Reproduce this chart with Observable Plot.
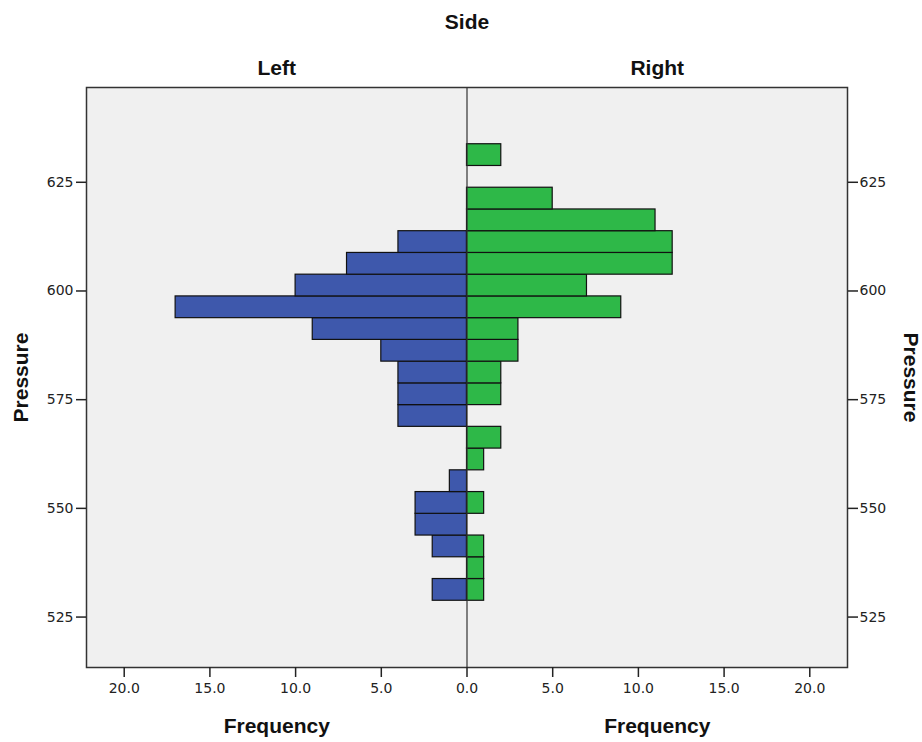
<!DOCTYPE html>
<html>
<head>
<meta charset="utf-8">
<script src="https://cdn.jsdelivr.net/npm/d3@7"></script>
<script src="https://cdn.jsdelivr.net/npm/@observablehq/plot@0.6"></script>
<style>
  html, body { margin: 0; padding: 0; background: #fff; }
</style>
</head>
<body>
<div id="chart"></div>
<script>
// Pressure bins (lower edges, bin width 5)
const binLower = [528.75, 533.75, 538.75, 543.75, 548.75, 553.75, 558.75, 563.75, 568.75, 573.75,
                  578.75, 583.75, 588.75, 593.75, 598.75, 603.75, 608.75, 613.75, 618.75, 623.75, 628.75];
const binWidth = 5;
// Frequencies per side
const leftCounts  = [2, 0, 2, 3, 3, 1, 0, 0, 4, 4, 4, 5, 9, 17, 10, 7, 4, 0, 0, 0, 0];
const rightCounts = [1, 1, 1, 0, 1, 0, 1, 2, 0, 2, 2, 3, 3, 9, 7, 12, 12, 11, 5, 0, 2];
const sides = ["Left", "Right"];
const sideColors = ["#3E58AC", "#2EB848"];
const xTicks = [-20, -15, -10, -5, 0, 5, 10, 15, 20];
const yTicks = [525, 550, 575, 600, 625];
const xMax = 22.2;
const yDomain = [513.4, 646.8];

const rows = binLower.flatMap((lo, i) => [
  {side: "Left", lo, hi: lo + binWidth, n: leftCounts[i]},
  {side: "Right", lo, hi: lo + binWidth, n: rightCounts[i]}
]).filter(d => d.n > 0);

const panelLabels = sides.map((s, i) => ({label: s, x: (i === 0 ? -1 : 1) * xMax / 2}));

const boldFont = {fontFamily: "Liberation Sans, Arial, sans-serif", fontWeight: "bold", fontSize: 21,
  fill: "#111", textAnchor: "middle", lineAnchor: "middle"};

const chart = Plot.plot({
  width: 922,
  height: 742,
  marginTop: 87,
  marginBottom: 75,
  marginLeft: 86,
  marginRight: 75,
  style: {fontFamily: "DejaVu Sans, sans-serif", fontSize: "14px", color: "#222", background: "#fff"},
  x: {domain: [-xMax, xMax]},
  y: {domain: yDomain},
  color: {domain: sides, range: sideColors},
  marks: [
    Plot.frame({fill: "#f0f0f0", stroke: "none"}),
    Plot.rect(rows, {
      x1: () => 0,
      x2: d => d.side === "Left" ? -d.n : d.n,
      y1: "lo",
      y2: "hi",
      fill: "side",
      stroke: "#111",
      strokeWidth: 1.2
    }),
    Plot.ruleX([0], {stroke: "#333", strokeWidth: 1.2}),
    Plot.frame({stroke: "#333", strokeWidth: 1.5}),
    Plot.axisX({anchor: "bottom", ticks: xTicks, tickSize: 10, tickPadding: 6,
      tickFormat: d => Math.abs(d).toFixed(1), label: null, strokeWidth: 1.5}),
    Plot.axisY({anchor: "left", ticks: yTicks, tickSize: 10, tickPadding: 3, label: null, strokeWidth: 1.5}),
    Plot.axisY({anchor: "right", ticks: yTicks, tickSize: 10, tickPadding: 2, label: null, strokeWidth: 1.5}),
    Plot.text(["Side"], {frameAnchor: "top", dy: -65, ...boldFont}),
    Plot.text(panelLabels, {x: "x", text: "label", frameAnchor: "top", dy: -19, ...boldFont}),
    Plot.text(panelLabels, {x: "x", text: () => "Frequency", frameAnchor: "bottom", dy: 59, ...boldFont}),
    Plot.text(["Pressure"], {frameAnchor: "left", dx: -65, rotate: -90, ...boldFont}),
    Plot.text(["Pressure"], {frameAnchor: "right", dx: 63, rotate: 90, ...boldFont})
  ]
});
document.getElementById("chart").appendChild(chart);
</script>
</body>
</html>
